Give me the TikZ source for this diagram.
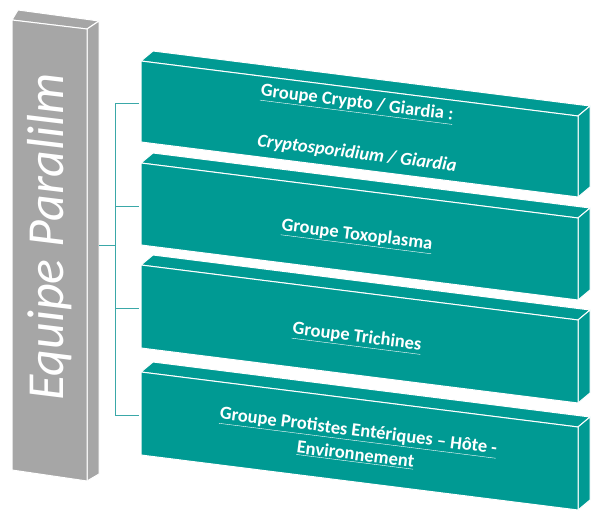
\documentclass[tikz,border=0pt]{standalone}
\usepackage{fontspec}
\setmainfont{Carlito}
\usetikzlibrary{positioning}
\usetikzlibrary{calc}
\definecolor{parateal}{HTML}{009A93}
\definecolor{paragray}{HTML}{A6A6A6}
\definecolor{paraline}{HTML}{3AA8A8}

\begin{document}
\begin{tikzpicture}[x=1pt,y=-1pt,
                grouptext/.style={text=white, font=\fontsize{18.5}{24}\selectfont\bfseries, align=center, rotate=-7.2},
                barface/.style={fill=parateal, draw=white, line width=1pt, line join=round},
                grayface/.style={fill=paragray, draw=white, line width=1pt, line join=round},
                ]
                \useasboundingbox (0,0) rectangle (600,526);
                % team bar
                \draw[grayface] (12,20) -- (18,10) -- (99,21) -- (87,29) -- cycle;
                \draw[grayface] (87,29) -- (99,21) -- (99,474) -- (87,481) -- cycle;
                \draw[grayface] (12,20) -- (87,29) -- (87,481) -- (12,470) -- cycle;
                \node[text=white, rotate=90, font=\fontsize{52}{56}\selectfont\itshape] (team) at (50,237) {Equipe Paralilm};

                % group bars
                \foreach \t/\b [count=\i] in {61/142, 163/245, 265/348, 372/455}{
                    \pgfmathsetmacro{\tr}{\t+55}
                    \pgfmathsetmacro{\br}{\b+55}
                    \draw[barface] (141,\t) -- (153,\t-10) -- (590,\tr-10) -- (578,\tr) -- cycle;
                    \draw[barface] (578,\tr) -- (590,\tr-10) -- (590,\br-10) -- (578,\br) -- cycle;
                    \draw[barface] (141,\t) -- (578,\tr) -- (578,\br) -- (141,\b) -- cycle;
                    \coordinate (G\i) at (139,{(\t+\b)/2+2});
                }

                \node[grouptext] (crypto) at (357,104) {\underline{Groupe Crypto / Giardia :}};
                \node[grouptext] (cryptoit) at (357,154) {\itshape Cryptosporidium / Giardia};
                \node[grouptext] (toxo) at (357,236) {\underline{Groupe Toxoplasma}};
                \node[grouptext] (trich) at (357,338) {\underline{Groupe Trichines}};
                \node[grouptext] (protist) at (357,443) {\underline{Groupe Protistes Entériques – Hôte -}\\\underline{Environnement}};

                % connectors
                \coordinate (spine) at (115,245);
                \draw[paraline, thin] (99,245) -- (spine);
                \draw[paraline, thin] (G1) -- (G1 -| spine) -- (G4 -| spine) -- (G4);
                \draw[paraline, thin] (G2 -| spine) -- (G2);
                \draw[paraline, thin] (G3 -| spine) -- (G3);
            \end{tikzpicture}
\end{document}
